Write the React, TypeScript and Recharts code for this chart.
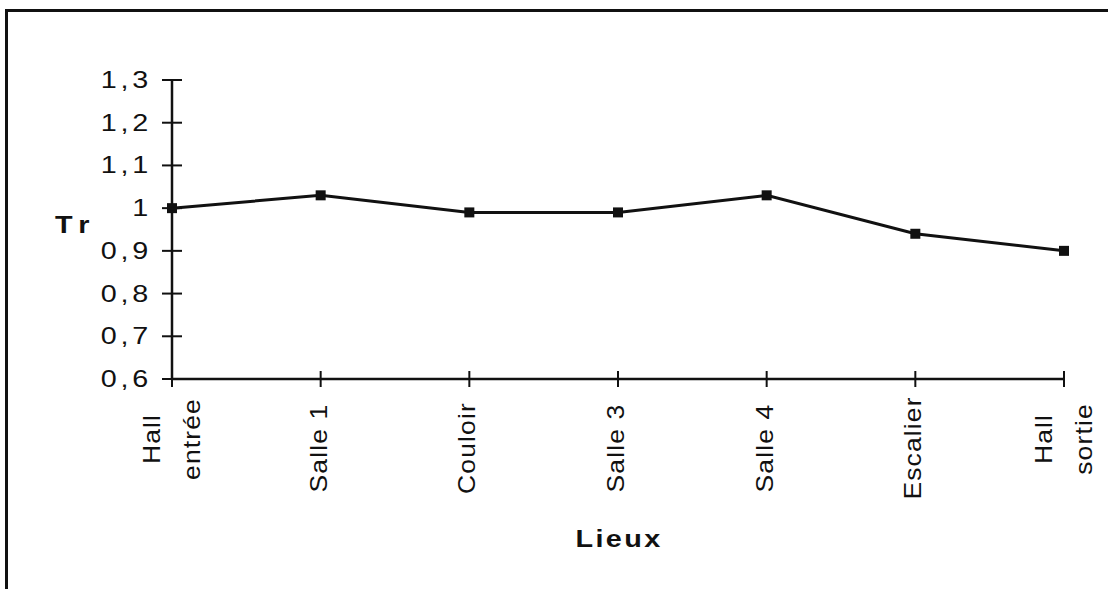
import React from "react";
import { LineChart, Line, XAxis, YAxis, Label } from "recharts";

const categories = ["Hall\nentrée", "Salle 1", "Couloir", "Salle 3", "Salle 4", "Escalier", "Hall\nsortie"];
const trValues = [1.0, 1.03, 0.99, 0.99, 1.03, 0.94, 0.9];
const yTicks = [0.6, 0.7, 0.8, 0.9, 1.0, 1.1, 1.2, 1.3];
const yTickLabels = ["0,6", "0,7", "0,8", "0,9", "1", "1,1", "1,2", "1,3"];
const xTitle = "Lieux";
const yTitle = "Tr";

const data = categories.map((c, i) => ({ lieu: c, tr: trValues[i] }));

const FONT = '"Liberation Sans", Arial, sans-serif';
const INK = "#111";

const XTick = (props: any) => {
  const { x, y, payload } = props;
  const lines = String(payload.value).split("\n");
  return (
    <g>
      <line x1={x} x2={x} y1={y - 8} y2={y + 8} stroke={INK} strokeWidth={2} />
      {lines.map((ln, i) => {
        const bx = lines.length === 1 ? x + 6 : x + (i === 0 ? -12 : 28);
        const cy = lines.length === 1 ? y + 69 : y + 60;
        return (
          <text
            key={i}
            transform={`translate(${bx},${cy}) rotate(-90) scale(1.15,1)`}
            textAnchor="middle"
            fontFamily={FONT}
            fontSize={23}
            letterSpacing={1}
            fill={INK}
          >
            {ln}
          </text>
        );
      })}
    </g>
  );
};

const YTick = (props: any) => {
  const { x, y, payload } = props;
  const idx = yTicks.findIndex((t) => Math.abs(t - payload.value) < 1e-9);
  const label = idx >= 0 ? yTickLabels[idx] : String(payload.value);
  return (
    <g>
      <line x1={x - 10} x2={x + 10} y1={y} y2={y} stroke={INK} strokeWidth={2} />
      <text
        transform={`translate(${x - 20},${y + 8}) scale(1.25,1)`}
        textAnchor="end"
        fontFamily={FONT}
        fontSize={23}
        letterSpacing={3}
        fill={INK}
      >
        {label}
      </text>
    </g>
  );
};

const SquareDot = (props: any) => {
  const { cx, cy } = props;
  if (cx == null || cy == null) return null;
  return <rect x={cx - 5} y={cy - 5} width={10} height={10} fill={INK} />;
};

const XTitle = (props: any) => {
  const vb = props.viewBox || {};
  const cx = vb.x + vb.width / 2;
  return (
    <text
      transform={`translate(${cx + 1},${vb.y + 168}) scale(1.2,1)`}
      textAnchor="middle"
      fontFamily={FONT}
      fontSize={24}
      fontWeight="bold"
      letterSpacing={2}
      fill={INK}
    >
      {xTitle}
    </text>
  );
};

const YTitle = () => (
  <text
    transform={`translate(55,233) scale(1.2,1)`}
    textAnchor="start"
    fontFamily={FONT}
    fontSize={24}
    fontWeight="bold"
    letterSpacing={6}
    fill={INK}
  >
    {yTitle}
  </text>
);

export default function App() {
  return (
    <div
      style={{
        position: "absolute",
        left: 0,
        top: 0,
        width: 1108,
        height: 589,
        overflow: "hidden",
        background: "#fff",
      }}
    >
      <div
        style={{
          position: "absolute",
          left: 5,
          top: 9,
          width: 1200,
          height: 700,
          border: `3px solid ${INK}`,
          boxSizing: "border-box",
        }}
      />
      <div style={{ position: "absolute", left: 0, top: 0 }}>
        <LineChart
          width={1108}
          height={589}
          data={data}
          margin={{ top: 80, right: 44, bottom: 0, left: 0 }}
        >
          <XAxis
            dataKey="lieu"
            scale="point"
            padding={{ left: 0, right: 0 }}
            height={210}
            interval={0}
            tickSize={0}
            tickMargin={0}
            tickLine={false}
            tick={<XTick />}
            axisLine={{ stroke: INK, strokeWidth: 2.5 }}
          >
            <Label content={<XTitle />} />
          </XAxis>
          <YAxis
            type="number"
            domain={[0.6, 1.3]}
            ticks={yTicks}
            interval={0}
            width={172}
            tickSize={0}
            tickMargin={0}
            tickLine={false}
            tick={<YTick />}
            axisLine={{ stroke: INK, strokeWidth: 2.5 }}
          >
            <Label content={<YTitle />} />
          </YAxis>
          <Line
            type="linear"
            dataKey="tr"
            stroke={INK}
            strokeWidth={3}
            dot={<SquareDot />}
            activeDot={false}
            isAnimationActive={false}
          />
        </LineChart>
      </div>
    </div>
  );
}
